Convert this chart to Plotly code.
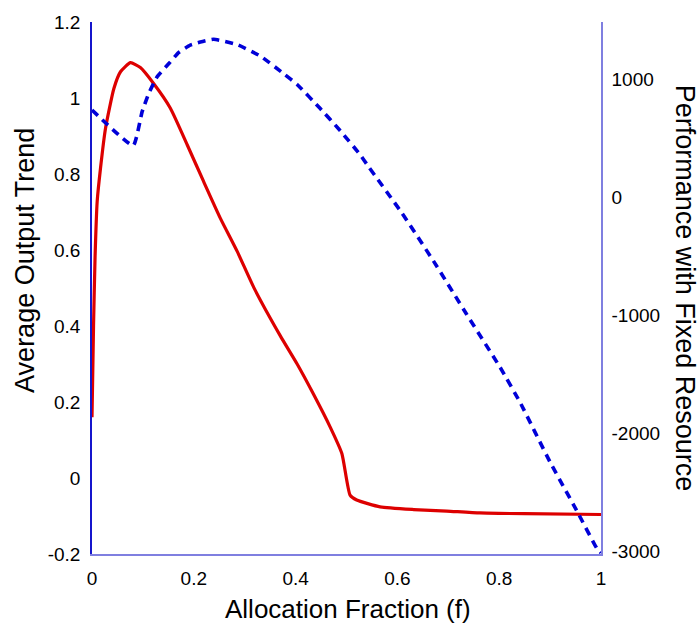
"""Average output trend vs performance with fixed resource (dual y-axis)."""

import plotly.graph_objects as go

# Allocation fraction f and average output trend (left axis, solid red)
f_trend = [0, 0.003, 0.006, 0.0102, 0.0167, 0.0265, 0.043, 0.056, 0.0756, 0.095,
           0.121, 0.154, 0.187, 0.219, 0.252, 0.285, 0.318, 0.370, 0.403, 0.435,
           0.468, 0.491, 0.507, 0.520, 0.566, 0.632, 0.697, 0.762, 0.85, 1.0]
output_trend = [0.16, 0.40, 0.58, 0.728, 0.815, 0.92, 1.025, 1.069, 1.093, 1.08,
                1.038, 0.973, 0.877, 0.781, 0.684, 0.597, 0.501, 0.374, 0.300, 0.221,
                0.134, 0.064, -0.045, -0.058, -0.076, -0.083, -0.087, -0.092, -0.094, -0.096]

# Allocation fraction f and performance with fixed resource (right axis, dashed blue)
f_perf = [0, 0.081, 0.0985, 0.1115, 0.128, 0.151, 0.170, 0.193, 0.213, 0.239,
          0.285, 0.331, 0.376, 0.403, 0.448, 0.488, 0.527, 0.543, 0.609, 0.671,
          0.736, 0.802, 0.841, 0.900, 0.952, 0.992, 1.0]
performance = [740, 439, 726, 880, 1021, 1133, 1226, 1289, 1316, 1339,
               1294, 1196, 1049, 956, 754, 563, 360, 262, -133, -540,
               -990, -1441, -1736, -2242, -2650, -2973, -3010]

x_ticks = [0, 0.2, 0.4, 0.6, 0.8, 1]
x_ticktext = ["0", "0.2", "0.4", "0.6", "0.8", "1"]
left_ticks = [-0.2, 0, 0.2, 0.4, 0.6, 0.8, 1, 1.2]
left_ticktext = ["-0.2", "0", "0.2", "0.4", "0.6", "0.8", "1", "1.2"]
right_ticks = [-3000, -2000, -1000, 0, 1000]
right_ticktext = ["-3000", "-2000", "-1000", "0", "1000"]

FONT = "Liberation Sans, Arial, sans-serif"

fig = go.Figure()
fig.add_scatter(
    x=f_trend, y=output_trend, mode="lines", yaxis="y",
    line=dict(color="#dd0000", width=3.2, shape="spline", smoothing=0.5),
    hoverinfo="skip",
)
fig.add_scatter(
    x=f_perf, y=performance, mode="lines", yaxis="y2",
    line=dict(color="#0000d8", width=3.6, dash="8px,6px", shape="spline", smoothing=0.4),
    hoverinfo="skip",
)

fig.update_layout(
    width=699, height=626,
    margin=dict(l=92, r=98, t=20, b=72),
    paper_bgcolor="white", plot_bgcolor="white",
    showlegend=False,
    font=dict(family=FONT, size=19, color="black"),
    xaxis=dict(
        range=[0, 1], tickvals=x_ticks, ticktext=x_ticktext,
        showgrid=False, zeroline=False,
        showline=True, linecolor="#7f7fe0", linewidth=2,
        ticks="outside", ticklen=6, tickcolor="rgba(0,0,0,0)",
    ),
    yaxis=dict(
        range=[-0.2, 1.2], tickvals=left_ticks, ticktext=left_ticktext,
        showgrid=False, zeroline=False,
        showline=True, linecolor="#1515cc", linewidth=1.5,
        ticks="outside", ticklen=6, tickcolor="rgba(0,0,0,0)",
    ),
    yaxis2=dict(
        range=[-3020, 1485], tickvals=right_ticks, ticktext=right_ticktext,
        overlaying="y", side="right",
        showgrid=False, zeroline=False,
        showline=True, linecolor="#7f7fe0", linewidth=1.5,
        ticks="outside", ticklen=5, tickcolor="rgba(0,0,0,0)",
    ),
)

fig.add_annotation(
    text="Allocation Fraction (f)", xref="paper", yref="paper",
    x=0.5025, y=-0.104, xanchor="center", yanchor="middle",
    showarrow=False, font=dict(size=26),
)
fig.add_annotation(
    text="Average Output Trend", xref="paper", yref="paper",
    x=-0.1305, y=0.552, xanchor="center", yanchor="middle",
    textangle=-90, showarrow=False, font=dict(size=27),
)
fig.add_annotation(
    text="Performance with Fixed Resource", xref="paper", yref="paper",
    x=1.1668, y=0.499, xanchor="center", yanchor="middle",
    textangle=90, showarrow=False, font=dict(size=27),
)

# the page body has a default 8px margin; drop it so the figure sits at (0, 0)
fig.write_html(
    "out.html",
    config={"displayModeBar": False},
    post_script="document.body.style.margin='0';",
)
